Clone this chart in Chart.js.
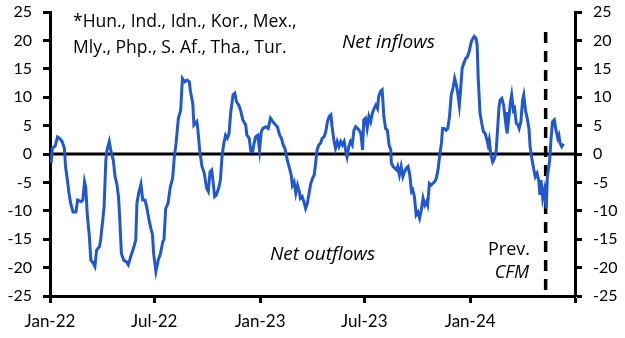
<!DOCTYPE html>
<html>
<head>
<meta charset="utf-8">
<script src="https://cdn.jsdelivr.net/npm/chart.js@4.4.1/dist/chart.umd.min.js"></script>
<style>
  html, body { margin: 0; padding: 0; background: #fff; }
  #flowsChart { display: block; }
</style>
</head>
<body>
<canvas id="flowsChart" width="625" height="338"></canvas>
<script>
// days since 1 Jan 2022
const dayOffsets = [
  2, 4, 9, 13, 17, 21, 25, 27, 31, 33, 36, 40, 45, 48, 54, 57,
  60, 62, 65, 68, 71, 75, 78, 81, 86, 88, 91, 94, 97, 99, 103, 106,
  110, 113, 116, 119, 121, 124, 128, 133, 136, 141, 145, 149, 151, 154, 158, 161,
  165, 168, 172, 175, 178, 180, 184, 188, 192, 196, 198, 201, 205, 209, 213, 216,
  219, 223, 227, 230, 234, 238, 242, 244, 248, 250, 255, 257, 260, 264, 268, 272,
  275, 278, 281, 283, 286, 289, 293, 296, 299, 302, 305, 308, 311, 314, 318, 321,
  324, 328, 331, 335, 340, 342, 346, 349, 352, 354, 357, 361, 364, 367, 370, 375,
  379, 383, 387, 392, 395, 399, 402, 405, 408, 411, 413, 416, 419, 421, 424, 427,
  430, 433, 435, 438, 441, 444, 447, 450, 453, 456, 459, 462, 464, 467, 470, 473,
  476, 479, 482, 485, 488, 490, 493, 496, 499, 502, 505, 508, 511, 514, 516, 519,
  522, 525, 528, 531, 534, 537, 540, 543, 545, 548, 551, 554, 557, 560, 563, 566,
  569, 571, 574, 577, 580, 583, 586, 589, 592, 593, 596, 599, 602, 604, 607, 610,
  613, 616, 619, 622, 625, 628, 630, 633, 636, 639, 642, 645, 648, 651, 654, 656,
  659, 662, 665, 668, 671, 674, 677, 680, 682, 685, 688, 691, 694, 697, 700, 703,
  706, 708, 711, 713, 716, 719, 722, 725, 728, 732, 735, 737, 740, 742, 744, 747,
  750, 753, 756, 759, 761, 763, 766, 769, 772, 775, 777, 780, 782, 785, 788, 791,
  793, 794, 797, 800, 802, 805, 807, 810, 813, 815, 818, 821, 823, 826, 829, 832,
  834, 837, 840, 843, 846, 849, 851, 853, 856, 859, 862, 864, 868, 870, 873, 876,
  879, 882, 884, 886, 889, 892
];

// portfolio flows, $bn (rolling sum)
const netFlows = [
  -1.6, 1.0, 1.4, 3.0, 2.7, 2.2, 1.0, -2.2, -5.2, -6.9, -8.7, -10.2, -10.2, -8.1, -8.4, -8.1,
  -4.9, -5.8, -11.0, -14.0, -18.7, -19.2, -19.8, -16.9, -16.3, -15.1, -12.2, -9.3, -1.1, 0.7, 2.2, 0.4,
  -1.1, -4.0, -5.2, -7.5, -11.0, -17.5, -18.7, -19.0, -19.5, -17.8, -16.6, -15.1, -8.7, -6.9, -5.3, -8.1,
  -8.1, -9.3, -11.6, -13.0, -14.2, -17.5, -20.7, -18.7, -17.5, -15.4, -15.1, -9.6, -8.7, -5.8, -4.3, -0.5,
  1.9, 6.3, 7.7, 13.3, 12.7, 13.0, 12.7, 11.0, 8.9, 5.1, 5.7, 4.2, 0.7, -2.2, -3.4, -6.0,
  -6.6, -3.1, -2.8, -4.6, -7.5, -7.2, -6.0, -4.6, -0.2, 1.9, 3.3, 2.8, 3.6, 7.4, 10.4, 10.7,
  9.2, 8.6, 7.7, 6.0, 5.1, 3.3, 2.8, 0.4, 0.4, 1.6, 3.0, 3.3, 0.7, 3.9, 4.5, 4.8,
  4.5, 6.3, 5.7, 5.1, 4.8, 3.3, 2.8, 1.6, 1.0, -0.5, -1.4, -2.5, -3.7, -5.5, -4.9, -6.9,
  -5.5, -6.6, -7.8, -7.5, -8.4, -9.6, -8.7, -6.9, -5.2, -4.3, -3.7, -1.1, 0.7, 1.6, 1.9, 2.8,
  3.0, 3.9, 5.7, 6.6, 6.9, 4.8, 2.5, 1.0, 2.2, 1.3, 2.2, 1.6, 2.2, 0.4, -0.5, 1.3,
  2.2, 1.6, 4.2, 4.8, 4.5, 4.2, 3.6, 0.7, 6.0, 6.3, 4.5, 6.6, 5.7, 7.2, 8.0, 8.6,
  8.0, 10.1, 11.0, 11.3, 6.6, 4.5, 4.2, 1.6, 0.7, -1.6, -2.2, -2.5, -2.8, -2.2, -3.7, -2.2,
  -4.0, -3.1, -2.5, -2.2, -3.7, -6.6, -6.3, -7.5, -10.7, -10.2, -11.3, -9.9, -7.8, -9.0, -8.4, -9.0,
  -5.2, -5.5, -5.2, -4.9, -4.3, -2.8, -0.2, 1.9, 4.5, 4.5, 4.2, 4.5, 6.6, 10.4, 11.6, 13.3,
  12.1, 11.0, 8.6, 11.0, 15.1, 16.0, 16.8, 17.1, 18.0, 19.8, 20.4, 20.7, 20.4, 19.2, 13.0, 7.2,
  5.4, 3.9, 3.6, 2.5, 1.6, 2.5, -0.2, -1.4, -0.8, 0.4, 3.6, 8.3, 9.5, 9.8, 8.6, 6.0,
  7.4, 3.6, 6.3, 9.2, 10.4, 7.7, 8.0, 5.4, 5.1, 4.5, 5.7, 9.5, 10.4, 7.7, 6.3, 4.5,
  1.3, -0.8, -2.5, -4.0, -3.4, -4.6, -7.2, -4.6, -7.8, -6.3, -9.6, -4.0, -1.1, 2.2, 5.7, 6.0,
  4.2, 2.8, 3.3, 1.9, 1.3, 1.8
];

// x-axis ticks (Jan-22 ... Jul-24) and their labels
const tickDays = [0, 181, 365, 546, 730, 912];
const tickLabels = ["Jan-22", "Jul-22", "Jan-23", "Jul-23", "Jan-24", ""];

const prevCfmDay = 861;   // previous CFM, 11 May 2024

const footnote = [
  "*Hun., Ind., Idn., Kor., Mex.,",
  "Mly., Php., S. Af., Tha., Tur."
];

const textFont = "'Open Sans', sans-serif";

Chart.defaults.font.family = "Lato, 'Open Sans', sans-serif";
Chart.defaults.color = "#000";

const extras = {
  id: "extras",
  beforeDatasetsDraw(chart) {
    const { ctx, chartArea, scales } = chart;
    const y0 = scales.y.getPixelForValue(0);
    const xm = scales.x.getPixelForValue(prevCfmDay);

    ctx.save();
    ctx.strokeStyle = "#000";
    ctx.lineWidth = 3;
    ctx.beginPath();
    ctx.moveTo(chartArea.left, y0);
    ctx.lineTo(chartArea.right, y0);
    ctx.stroke();

    ctx.lineWidth = 3.5;
    ctx.setLineDash([11, 8]);
    ctx.beginPath();
    ctx.moveTo(xm, scales.y.getPixelForValue(21.5));
    ctx.lineTo(xm, chartArea.bottom);
    ctx.stroke();
    ctx.restore();
  },
  afterDraw(chart) {
    const { ctx, chartArea } = chart;
    const left = chartArea.left;
    ctx.save();
    ctx.fillStyle = "#000";
    ctx.textBaseline = "alphabetic";

    ctx.font = "17.5px " + textFont;
    ctx.textAlign = "left";
    ctx.fillText(footnote[0], left + 23, 27);
    ctx.fillText(footnote[1], left + 23, 53);

    ctx.font = "italic 19px " + textFont;
    ctx.fillText("Net inflows", 342, 48);
    ctx.fillText("Net outflows", 270, 260);

    ctx.textAlign = "right";
    ctx.font = "18px " + textFont;
    ctx.fillText("Prev.", 530, 255);
    ctx.font = "italic 18px " + textFont;
    ctx.fillText("CFM", 529, 278);
    ctx.restore();
  }
};

const axisGrid = {
  drawOnChartArea: false,
  drawTicks: true,
  tickLength: 7,
  tickWidth: 3,
  tickColor: "#000"
};

// fixed axis sizes; drop the label overhang so the plot top sits at 12px
const fitY = axis => {
  axis.width = 50;
  axis.paddingTop = 0;
  axis.paddingBottom = 0;
};

new Chart(document.getElementById("flowsChart"), {
  type: "line",
  data: {
    datasets: [{
      data: dayOffsets.map((d, i) => ({ x: d, y: netFlows[i] })),
      borderColor: "#2158cf",
      borderWidth: 3,
      pointRadius: 0,
      tension: 0,
      yAxisID: "y"
    }]
  },
  options: {
    responsive: false,
    animation: false,
    layout: { padding: { top: 12, right: 0, left: 0, bottom: 0 } },
    plugins: {
      legend: { display: false },
      tooltip: { enabled: false }
    },
    scales: {
      x: {
        type: "linear",
        min: 0,
        max: 912,
        afterBuildTicks: axis => {
          axis.ticks = tickDays.map(v => ({ value: v }));
        },
        afterFit: axis => {
          axis.height = 42;
          axis.paddingLeft = 0;
          axis.paddingRight = 0;
        },
        grid: axisGrid,
        border: { color: "#000", width: 3 },
        ticks: {
          autoSkip: false,
          maxRotation: 0,
          padding: 8,
          font: { size: 17 },
          callback: (value) => tickLabels[tickDays.indexOf(value)]
        }
      },
      y: {
        position: "left",
        min: -25,
        max: 25,
        afterFit: fitY,
        grid: axisGrid,
        border: { color: "#000", width: 3 },
        ticks: { stepSize: 5, padding: 11, font: { size: 16 } }
      },
      y2: {
        position: "right",
        min: -25,
        max: 25,
        afterFit: fitY,
        grid: axisGrid,
        border: { color: "#000", width: 3 },
        ticks: { stepSize: 5, padding: 11, font: { size: 16 } }
      }
    }
  },
  plugins: [extras]
});
</script>
</body>
</html>
